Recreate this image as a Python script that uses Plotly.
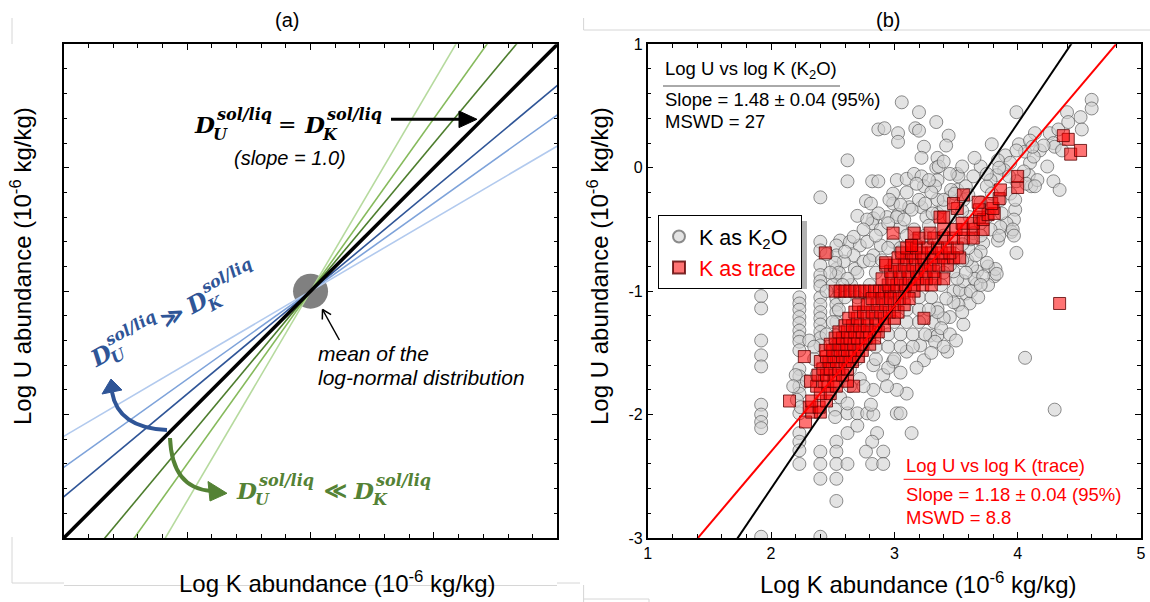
import math
import plotly.graph_objects as go

W, H = 1150, 602

# ---------------- Panel (a): conceptual diagram ----------------
a_center_logK = 10.0
a_center_logU = 10.0
a_slopes = [1.7, 1.4, 1.2, 1 / 1.2, 1 / 1.4, 1 / 1.7, 1.0]
a_line_colors = ['#b6da9e', '#86ba5c', '#4d7d2d', '#2f5597', '#7ea3da', '#b2caee', '#000000']
a_line_widths = [1.6, 1.6, 1.6, 1.6, 1.6, 1.6, 3.6]
a_range = [0, 20]

# ---------------- Panel (b): data (log K, log U) ----------------
k2o_upper = [(3.06, 0.53), (3.20, 0.45), (3.34, 0.37), (2.87, 0.31), (2.92, 0.32), (3.03, 0.28), (3.03, 0.21),
             (3.17, 0.32), (3.20, 0.30), (3.24, 0.17), (3.22, 0.08), (3.35, 0.08), (2.62, 0.06), (2.62, -0.11),
             (2.82, -0.11), (2.87, -0.11), (3.02, -0.10), (3.10, -0.09), (3.16, -0.05), (3.22, -0.07),
             (3.24, -0.15), (3.18, -0.13), (3.34, 0.00), (3.35, -0.10), (2.40, -0.24), (2.77, -0.27),
             (2.99, -0.21), (2.99, -0.29), (2.70, -0.39), (2.83, -0.41), (2.82, -0.45), (2.94, -0.40),
             (3.03, -0.38), (3.12, -0.32), (3.22, -0.32), (3.20, -0.26), (3.26, -0.40), (3.35, -0.37),
             (2.89, -0.50), (3.05, -0.48), (3.16, -0.50), (2.56, -0.59), (3.14, -0.34), (3.25, -0.29),
             (3.31, -0.37), (2.78, -0.42), (2.81, -0.29), (2.96, -0.26), (2.87, -0.37), (3.02, -0.40)]
k2o_right = [(3.99, 0.45), (3.79, 0.19), (4.14, 0.28), (4.26, 0.28), (4.40, 0.45), (4.51, 0.41), (4.60, 0.55),
             (4.60, 0.48), (4.52, 0.31), (4.29, 0.20), (4.24, 0.01), (4.29, -0.11), (4.34, -0.18), (3.44, 0.26),
             (3.42, 0.18), (3.36, 0.01), (3.33, -0.15), (4.01, 0.19), (3.90, 0.10), (3.51, -0.05), (3.52, -0.07),
             (4.33, 0.31), (4.30, 0.17), (4.36, 0.14), (4.41, 0.37), (4.10, 0.04), (4.09, -0.06), (4.05, -0.03),
             (3.99, -0.11), (4.11, -0.15), (3.94, 0.04), (3.89, -0.02), (3.83, -0.06), (3.78, -0.10),
             (3.75, -0.15), (3.79, -0.21), (3.86, -0.26), (3.94, -0.21), (3.98, -0.34), (3.97, -0.42),
             (3.91, -0.45), (3.95, -0.52), (3.86, -0.48), (3.78, -0.50), (3.75, -0.40), (3.70, -0.45),
             (3.64, -0.53), (3.61, -0.40), (3.56, -0.26), (3.51, -0.18), (3.45, -0.24), (3.40, -0.32),
             (3.35, -0.26), (4.07, -0.13), (4.16, -0.10), (4.06, 0.13), (4.18, 0.14), (4.13, 0.09), (4.10, 0.22),
             (4.21, 0.18), (3.46, -0.18), (3.55, 0.01), (3.70, 0.01), (3.84, 0.06), (3.99, 0.14), (4.12, 0.17),
             (3.93, -0.07), (4.14, -0.15), (3.98, -0.26), (3.87, -0.37), (3.96, -0.50), (3.84, -0.59),
             (3.99, -0.69), (3.76, -0.80), (3.81, -0.88), (3.67, -0.94), (3.58, -1.02), (3.40, -0.26),
             (3.49, -0.21), (3.58, -0.15), (3.64, -0.07)]
k2o_left = [(1.92, -1.04), (1.92, -1.14), (1.92, -1.40), (1.92, -1.52), (1.92, -1.61), (1.92, -1.92),
            (1.92, -2.00), (1.92, -2.06), (1.92, -2.11), (1.92, -2.99),
            (2.23, -1.05), (2.23, -1.10), (2.23, -1.15), (2.23, -1.21), (2.23, -1.26), (2.23, -1.32),
            (2.23, -1.37), (2.23, -1.41), (2.23, -1.48), (2.23, -1.63), (2.23, -1.69), (2.23, -1.77),
            (2.23, -1.83), (2.23, -1.99), (2.23, -2.15), (2.23, -2.22), (2.23, -2.29), (2.23, -2.40),
            (2.40, -0.60), (2.40, -0.67), (2.40, -0.79), (2.40, -0.87), (2.40, -0.92), (2.40, -0.96),
            (2.40, -1.05), (2.40, -1.11), (2.40, -1.17), (2.40, -1.22), (2.40, -1.27), (2.40, -1.33),
            (2.40, -1.38), (2.40, -1.44), (2.40, -2.30), (2.40, -2.40), (2.40, -2.52), (2.40, -2.99),
            (2.53, -0.63), (2.53, -0.71), (2.53, -0.82), (2.53, -0.88), (2.53, -1.06), (2.53, -1.11),
            (2.53, -1.17), (2.53, -1.25), (2.53, -1.36), (2.53, -1.44), (2.53, -2.22), (2.53, -2.30),
            (2.53, -2.40), (2.53, -2.52), (2.53, -2.70), (2.62, -2.15), (2.62, -2.40)]
k2o_middle = [(2.64, -0.60), (2.72, -0.63), (2.67, -0.71), (2.59, -0.76), (2.68, -0.82), (2.75, -0.76),
              (2.83, -0.71), (2.78, -0.60), (2.89, -0.63), (2.99, -0.60), (3.16, -0.59), (3.26, -0.60),
              (3.13, -0.71), (3.05, -0.68), (2.52, -0.77), (2.67, -0.56),
              (2.20, -1.68), (2.29, -1.73), (2.37, -1.68), (2.45, -1.63), (2.56, -1.57), (2.64, -1.63),
              (2.72, -1.71), (2.83, -1.60), (2.91, -1.68), (2.99, -1.57), (3.10, -1.49), (3.21, -1.44),
              (3.29, -1.36), (3.32, -1.25), (3.24, -1.22), (3.35, -1.14),
              (2.52, -1.96), (2.52, -2.02), (2.62, -1.99), (2.70, -1.99), (2.70, -2.09), (2.78, -1.99),
              (2.83, -2.00), (2.86, -2.15), (2.82, -2.22), (2.77, -2.30), (2.82, -2.40), (2.91, -2.30),
              (2.91, -2.40), (3.02, -1.99), (3.05, -1.99), (3.14, -2.15), (3.10, -1.83), (3.02, -1.80),
              (2.94, -1.77), (2.83, -1.80), (2.75, -1.77), (2.64, -1.77), (2.56, -1.86), (2.62, -1.91),
              (2.81, -1.92), (2.21, -1.88), (2.24, -1.94), (2.18, -1.77), (2.31, -1.40),
              (3.76, -0.95), (4.06, -1.54), (3.43, -1.49), (3.56, -1.27), (3.61, -1.10), (3.82, -0.82),
              (3.83, -0.86), (3.75, -0.77), (3.67, -0.84), (3.63, -0.80), (3.59, -0.75), (3.72, -0.61),
              (3.70, -0.68), (3.66, -0.71), (3.48, -1.00), (3.45, -1.21), (3.40, -1.22), (3.35, -1.17),
              (3.35, -1.36), (3.33, -1.41), (3.52, -1.11), (3.55, -1.17), (3.48, -1.09), (3.42, -1.06),
              (3.53, -0.99), (3.56, -0.92), (3.51, -0.90), (3.48, -0.84), (3.45, -0.79), (3.85, -0.55),
              (3.97, -0.55), (4.30, -1.96), (3.24, -1.56), (3.18, -1.62), (3.05, -1.66), (2.95, -1.62)]
k2o_core = [(2.35, -1.55), (2.70, -1.55), (2.85, -1.55), (3.00, -1.55), (2.35, -1.45), (2.85, -1.45),
            (2.95, -1.45), (3.05, -1.45), (3.15, -1.45), (2.45, -1.35), (2.95, -1.35), (3.05, -1.35),
            (3.15, -1.35), (3.25, -1.35), (2.50, -1.25), (3.00, -1.25), (3.10, -1.25), (3.20, -1.25),
            (2.55, -1.15), (3.10, -1.15), (3.20, -1.15), (3.28, -1.15), (2.60, -1.05), (2.70, -1.05),
            (3.20, -1.05), (3.30, -1.05), (2.50, -0.95), (2.65, -0.95), (2.80, -0.95), (3.38, -0.95),
            (2.55, -0.85), (2.70, -0.85), (2.85, -0.85), (3.40, -0.85), (2.80, -0.75), (2.90, -0.75),
            (3.55, -0.75), (2.95, -0.65), (3.05, -0.65), (3.60, -0.65), (3.10, -0.55), (3.25, -0.55),
            (3.40, -0.55), (3.70, -0.55)]
k2o_extra = [(2.45, -0.70), (2.48, -0.85), (2.60, -0.68), (2.62, -0.90), (2.45, -1.00), (2.58, -0.95),
             (2.75, -0.50), (2.85, -0.55), (2.95, -0.45), (3.08, -0.42), (3.28, -0.47), (3.45, -0.40),
             (3.55, -0.35), (3.60, -0.22), (3.70, -0.28), (3.75, -0.05), (3.85, 0.00), (3.65, 0.08),
             (3.38, -1.30), (3.45, -1.35), (3.50, -1.40), (3.40, -1.45), (3.30, -1.50), (3.62, -1.00),
             (3.68, -1.05), (3.65, -0.90), (3.72, -0.88), (3.70, -0.95), (3.58, -0.85), (3.62, -0.58),
             (3.55, -0.62), (3.30, -0.20), (3.28, -0.10), (3.45, -0.05), (3.40, 0.05), (3.10, -0.20),
             (3.05, -0.30)]

trace_row = [(2.52, -1.00), (2.56, -1.00), (2.60, -1.00), (2.64, -1.00), (2.68, -1.00), (2.72, -1.00),
             (2.76, -1.00), (2.80, -1.00), (2.84, -1.00), (2.88, -1.00), (2.92, -1.00), (2.96, -1.00),
             (3.00, -1.00), (3.08, -1.00), (3.16, -1.00)]
trace_low = [(2.28, -2.06), (2.33, -1.98), (2.40, -1.98), (2.31, -1.94), (2.39, -1.94), (2.15, -1.89),
             (2.33, -1.89), (2.45, -1.89), (2.40, -1.83), (2.48, -1.83), (2.37, -1.77), (2.46, -1.77),
             (2.53, -1.77), (2.67, -1.77), (2.32, -1.73), (2.43, -1.73), (2.51, -1.73), (2.62, -1.73),
             (2.38, -1.68), (2.45, -1.68), (2.52, -1.68), (2.58, -1.68), (2.42, -1.63), (2.48, -1.63),
             (2.55, -1.63), (2.62, -1.63), (2.40, -1.57), (2.47, -1.57), (2.53, -1.57), (2.60, -1.57),
             (2.66, -1.57), (2.27, -1.53), (2.45, -1.53), (2.51, -1.53), (2.58, -1.53), (2.64, -1.53),
             (2.71, -1.53), (2.44, -1.48), (2.50, -1.48), (2.56, -1.48), (2.62, -1.48), (2.68, -1.48),
             (2.74, -1.48), (2.48, -1.43), (2.55, -1.43), (2.61, -1.43), (2.67, -1.43), (2.73, -1.43),
             (2.80, -1.43), (2.52, -1.38), (2.58, -1.38), (2.64, -1.38), (2.70, -1.38), (2.77, -1.38),
             (2.84, -1.38), (2.55, -1.33), (2.62, -1.33), (2.68, -1.33), (2.74, -1.33), (2.80, -1.33),
             (2.87, -1.33), (2.60, -1.28), (2.66, -1.28), (2.72, -1.28), (2.78, -1.28), (2.85, -1.28),
             (2.92, -1.28), (2.63, -1.22), (2.70, -1.22), (2.78, -1.22), (2.85, -1.22), (2.92, -1.22),
             (3.00, -1.22), (3.24, -1.22), (2.68, -1.17), (2.75, -1.17), (2.82, -1.17), (2.89, -1.17),
             (2.96, -1.17), (3.03, -1.17), (2.71, -1.11), (2.78, -1.11), (2.86, -1.11), (2.93, -1.11),
             (3.00, -1.11), (3.08, -1.11), (2.82, -1.06), (2.90, -1.06), (2.97, -1.06), (3.04, -1.06),
             (3.12, -1.06)]
trace_high = [(2.95, -0.95), (3.02, -0.95), (3.09, -0.95), (3.16, -0.95), (3.23, -0.95), (3.30, -0.95),
              (2.90, -0.90), (2.98, -0.90), (3.05, -0.90), (3.12, -0.90), (3.19, -0.90), (3.26, -0.90),
              (3.33, -0.90), (3.40, -0.90), (2.97, -0.84), (3.04, -0.84), (3.11, -0.84), (3.18, -0.84),
              (3.25, -0.84), (3.32, -0.84), (2.93, -0.79), (3.00, -0.79), (3.08, -0.79), (3.15, -0.79),
              (3.22, -0.79), (3.29, -0.79), (3.36, -0.79), (3.43, -0.79), (3.03, -0.73), (3.10, -0.73),
              (3.17, -0.73), (3.24, -0.73), (3.32, -0.73), (3.40, -0.73), (3.48, -0.73), (3.53, -0.73),
              (2.44, -0.69), (3.06, -0.69), (3.14, -0.69), (3.22, -0.69), (3.30, -0.69), (3.38, -0.69),
              (3.45, -0.69), (3.14, -0.63), (3.10, -0.65), (3.18, -0.65), (3.27, -0.65), (3.35, -0.65),
              (3.43, -0.65), (3.51, -0.65), (3.20, -0.57), (3.32, -0.57), (3.40, -0.57), (3.48, -0.57),
              (3.56, -0.57), (3.64, -0.57), (2.99, -0.53), (3.16, -0.53), (3.29, -0.53), (3.40, -0.50),
              (3.50, -0.50), (3.56, -0.50), (3.64, -0.50), (3.72, -0.50), (3.55, -0.45), (3.64, -0.45),
              (3.37, -0.40), (3.40, -0.40), (3.69, -0.40), (3.72, -0.42), (3.76, -0.38), (3.81, -0.37),
              (3.51, -0.33), (3.69, -0.34), (3.80, -0.33), (3.48, -0.29), (3.68, -0.28), (3.79, -0.29),
              (3.85, -0.25), (3.56, -0.22), (3.86, -0.18), (4.00, -0.16), (4.00, -0.07), (4.43, 0.11),
              (4.51, 0.14), (4.41, 0.23), (4.37, 0.26), (4.34, -1.10), (2.93, -0.77), (3.14, -0.63)]

k2o_groups = (k2o_upper, k2o_right, k2o_left, k2o_middle, k2o_core, k2o_extra)
trace_groups = (trace_row, trace_low, trace_high)
k2o_logK = [p[0] for grp in k2o_groups for p in grp]
k2o_logU = [p[1] for grp in k2o_groups for p in grp]
trace_logK = [p[0] for grp in trace_groups for p in grp]
trace_logU = [p[1] for grp in trace_groups for p in grp]

fit_slopes = [1.48, 1.18]
fit_intercepts = [-5.56, -4.66]
fit_colors = ['#000000', '#ff0000']

b_xrange = [1, 5]
b_yrange = [-3, 1]
b_xticks = [1, 2, 3, 4, 5]
b_xticklabels = ['1', '2', '3', '4', '5']
b_yticks = [-3, -2, -1, 0, 1]
b_yticklabels = ['-3', '-2', '-1', '0', '1']

# ---------------- helpers (pixel -> paper) ----------------
def fx(px):
    return px / W


def fy(py):
    return 1 - py / H


SANS = 'Liberation Sans'
SERIF = 'DejaVu Serif'

fig = go.Figure()

# panel (a): mean circle, then lines
fig.add_trace(go.Scatter(x=[a_center_logK], y=[a_center_logU], mode='markers',
                         marker=dict(size=35, color='#808080'), xaxis='x', yaxis='y',
                         showlegend=False, hoverinfo='skip'))
for s, c, w in zip(a_slopes, a_line_colors, a_line_widths):
    xs = list(a_range)
    ys = [a_center_logU + s * (x - a_center_logK) for x in xs]
    fig.add_trace(go.Scatter(x=xs, y=ys, mode='lines', line=dict(color=c, width=w),
                             xaxis='x', yaxis='y', showlegend=False, hoverinfo='skip'))

# panel (b): scatter
fig.add_trace(go.Scatter(x=k2o_logK, y=k2o_logU, mode='markers', name='K as K<sub>2</sub>O',
                         marker=dict(symbol='circle', size=13, color='rgba(210,210,210,0.62)',
                                     line=dict(color='rgba(70,70,70,0.6)', width=1)),
                         xaxis='x2', yaxis='y2'))
fig.add_trace(go.Scatter(x=trace_logK, y=trace_logU, mode='markers',
                         name='<span style="color:#ff0000">K as trace</span>',
                         marker=dict(symbol='square', size=12, color='rgba(255,0,0,0.55)',
                                     line=dict(color='rgba(90,0,0,0.8)', width=1)),
                         xaxis='x2', yaxis='y2'))
for m, b, c in zip(fit_slopes, fit_intercepts, fit_colors):
    xs = list(b_xrange)
    ys = [m * x + b for x in xs]
    fig.add_trace(go.Scatter(x=xs, y=ys, mode='lines', line=dict(color=c, width=2),
                             xaxis='x2', yaxis='y2', showlegend=False, hoverinfo='skip'))

# ---------------- annotations ----------------
anns = []


def text(px, py, t, size, color='black', xanchor='center', angle=0, family=SANS):
    anns.append(dict(xref='paper', yref='paper', x=fx(px), y=fy(py), text=t, showarrow=False,
                     xanchor=xanchor, yanchor='middle', textangle=angle,
                     font=dict(family=family, size=size, color=color)))


def d_expr(cx, cy, op, color, angle, op_dx, d2_dx, sub1, sub2):
    pieces = [('<b><i>D</i></b>', 0, 0, 23),
              ('<b><i>sol/liq</i></b>', 39, -9.5, 16),
              ('<b><i>%s</i></b>' % sub1, 16, 9.5, 16),
              (op, op_dx, 0, 22),
              ('<b><i>D</i></b>', d2_dx, 0, 23),
              ('<b><i>sol/liq</i></b>', d2_dx + 39, -9.5, 16),
              ('<b><i>%s</i></b>' % sub2, d2_dx + 16, 9.5, 16)]
    a = math.radians(angle)
    for t, lx, ly, s in pieces:
        sx = cx + lx * math.cos(a) - ly * math.sin(a)
        sy = cy + lx * math.sin(a) + ly * math.cos(a)
        text(sx, sy, t, s, color=color, angle=angle, family=SERIF)


# panel titles
text(287, 20, '(a)', 20)
text(888, 20, '(b)', 20)
# axis titles
text(337, 582, 'Log K abundance (10<sup>-6</sup> kg/kg)', 24)
text(918, 583, 'Log K abundance (10<sup>-6</sup> kg/kg)', 24)
text(21, 266, 'Log U abundance (10<sup>-6</sup> kg/kg)', 24, angle=-90)
text(598, 266, 'Log U abundance (10<sup>-6</sup> kg/kg)', 24, angle=-90)

# panel (a) labels
d_expr(204.5, 124.5, '=', '#000000', 0, 82.5, 110, 'U', 'K')
text(290, 158, '<i>(slope = 1.0)</i>', 20)
d_expr(100, 355, '<b>≫</b>', '#2f5597', -28.5, 82, 110, 'U', 'K')
d_expr(246.5, 490, '<b>≪</b>', '#548235', 0, 89, 117, 'U', 'K')
text(315.6, 353.3, '<i>mean of the</i>', 21, xanchor='left')
text(315.6, 377.3, '<i>log-normal distribution</i>', 21, xanchor='left')

# panel (b) statistics
text(663, 70, 'Log U vs log K (K<sub>2</sub>O)', 18.5, xanchor='left')
text(663, 99, 'Slope = 1.48 ± 0.04 (95%)', 18.5, xanchor='left')
text(663, 121.7, 'MSWD = 27', 18.5, xanchor='left')
text(903.6, 465, 'Log U vs log K (trace)', 18.5, color='#ff0000', xanchor='left')
text(903.6, 494, 'Slope = 1.18 ± 0.04 (95%)', 18.5, color='#ff0000', xanchor='left')
text(903.6, 517.7, 'MSWD = 8.8', 18.5, color='#ff0000', xanchor='left')

# ---------------- shapes ----------------
shapes = []


def seg(x0, y0, x1, y1, color, width):
    shapes.append(dict(type='line', xref='paper', yref='paper', x0=fx(x0), y0=fy(y0), x1=fx(x1), y1=fy(y1),
                       line=dict(color=color, width=width)))


def poly(pts, color):
    path = 'M ' + ' L '.join('%.5f,%.5f' % (fx(x), fy(y)) for x, y in pts) + ' Z'
    shapes.append(dict(type='path', xref='paper', yref='paper', path=path, fillcolor=color,
                       line=dict(color=color, width=1)))


def qcurve(p0, c, p1, color, width):
    path = 'M %.5f,%.5f Q %.5f,%.5f %.5f,%.5f' % (fx(p0[0]), fy(p0[1]), fx(c[0]), fy(c[1]), fx(p1[0]), fy(p1[1]))
    shapes.append(dict(type='path', xref='paper', yref='paper', path=path,
                       line=dict(color=color, width=width)))


# underlines of stat boxes
seg(663, 86, 840, 86, '#555555', 1)
seg(903.6, 479.3, 1080, 479.3, '#ff0000', 1)
# legend shadow (legend box is about 658..803 x 217..285); legend itself is drawn on top
shapes.append(dict(type='rect', xref='paper', yref='paper', x0=fx(662), y0=fy(289), x1=fx(807), y1=fy(221),
                   fillcolor='rgba(0,0,0,0.3)', line=dict(width=0), layer='above'))
# "=" arrow
seg(391, 119.3, 462, 119.3, '#000000', 3)
poly([(477, 119.3), (459, 111), (459, 127.6)], '#000000')
# mean arrow
tip = (322.5, 309.5)
tail = (339.4, 340)
seg(tail[0], tail[1], tip[0], tip[1], '#000000', 1.5)
dx, dy = tail[0] - tip[0], tail[1] - tip[1]
L = math.hypot(dx, dy)
ux, uy = dx / L, dy / L
for ang in (30, -30):
    r = math.radians(ang)
    vx = ux * math.cos(r) - uy * math.sin(r)
    vy = ux * math.sin(r) + uy * math.cos(r)
    seg(tip[0], tip[1], tip[0] + 10 * vx, tip[1] + 10 * vy, '#000000', 1.5)
# curved arrows
qcurve((167, 430), (118, 428), (112, 392), '#2f5597', 4)
poly([(111, 379), (102, 394), (122, 390)], '#2f5597')
qcurve((170, 438), (172, 488), (211, 491), '#548235', 4)
poly([(227, 493.3), (208, 481.5), (210, 501)], '#548235')
# faint frame remnants
GR = '#d6d6d6'
seg(12, 18, 12, 44, GR, 1)
seg(12, 537, 12, 583, GR, 1)
seg(12, 583, 64, 583, GR, 1)
seg(64, 585.5, 557, 585.5, GR, 1)
seg(557, 583, 580, 583, GR, 1)
seg(583.6, 18, 583.6, 30, GR, 1)
seg(583.6, 30, 1150, 30, GR, 1)
seg(583.6, 585, 583.6, 602, GR, 1)
seg(583.6, 599, 649, 599, GR, 1)
seg(649, 599, 649, 602, GR, 1)

# ---------------- axes ----------------
ya_dom = [fy(538), fy(44.3)]
axis_common = dict(showline=True, linecolor='black', linewidth=1.5, mirror='allticks', ticks='inside',
                   tickcolor='black', tickwidth=1, showgrid=False, zeroline=False, automargin=False)

fig.update_layout(
    template='none',
    width=W, height=H, margin=dict(l=0, r=0, t=0, b=0, pad=0, autoexpand=False),
    paper_bgcolor='white', plot_bgcolor='rgba(0,0,0,0)',
    font=dict(family=SANS, color='black'),
    xaxis=dict(domain=[fx(63.7), fx(557.4)], range=a_range, anchor='y', showticklabels=False,
               tickmode='linear', tick0=0, dtick=5, ticklen=6,
               minor=dict(ticks='inside', tickmode='linear', tick0=0, dtick=1, ticklen=4, tickcolor='black',
                          showgrid=False), **axis_common),
    yaxis=dict(domain=ya_dom, range=a_range, anchor='x', showticklabels=False,
               tickmode='linear', tick0=0, dtick=5, ticklen=6,
               minor=dict(ticks='inside', tickmode='linear', tick0=0, dtick=1, ticklen=4, tickcolor='black',
                          showgrid=False), **axis_common),
    xaxis2=dict(domain=[fx(647.7), fx(1141)], range=b_xrange, anchor='y2', tickmode='array',
                tickvals=b_xticks, ticktext=b_xticklabels, ticklen=6,
                tickfont=dict(family=SANS, size=16, color='black'),
                minor=dict(ticks='inside', tickmode='linear', tick0=1, dtick=0.2, ticklen=4,
                           tickcolor='black', showgrid=False), **axis_common),
    yaxis2=dict(domain=ya_dom, range=b_yrange, anchor='x2', tickmode='array',
                tickvals=b_yticks, ticktext=b_yticklabels, ticklen=6,
                tickfont=dict(family=SANS, size=16, color='black'),
                minor=dict(ticks='inside', tickmode='linear', tick0=-3, dtick=0.2, ticklen=4,
                           tickcolor='black', showgrid=False), **axis_common),
    showlegend=True,
    legend=dict(x=fx(658), y=fy(215), xanchor='left', yanchor='top', bgcolor='white',
                bordercolor='black', borderwidth=1, font=dict(family=SANS, size=21.5, color='black'),
                itemsizing='constant', tracegroupgap=0),
    annotations=anns, shapes=shapes,
)

fig.write_html('out.html')
